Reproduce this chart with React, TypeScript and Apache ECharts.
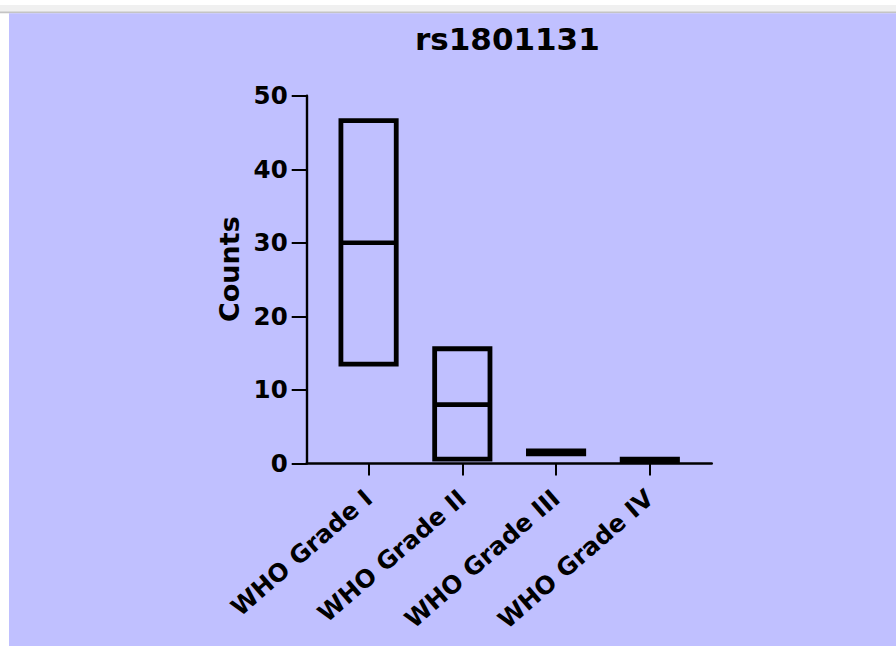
import React, { useEffect, useRef } from "react";
import * as echarts from "echarts";

const title = "rs1801131";
const yAxisName = "Counts";
const categories = ["WHO Grade I", "WHO Grade II", "WHO Grade III", "WHO Grade IV"];
const lowValues = [13.5, 0.6, 1.3, 0.4];
const highValues = [46.6, 15.6, 1.7, 0.6];
const medianValues = [30, 8, 1.5, 0.5];
const categoryPositions = [0, 1, 2, 3];

const FONT = "'DejaVu Sans', sans-serif";

export default function App() {
  const ref = useRef<HTMLDivElement>(null);
  useEffect(() => {
    if (!ref.current) return;
    const chart = echarts.init(ref.current, null, { renderer: "svg" });
    const data = categories.map((_, i) => [
      categoryPositions[i],
      lowValues[i],
      highValues[i],
      medianValues[i],
    ]);
    chart.setOption({
      animation: false,
      backgroundColor: "#ffffff",
      title: {
        text: title,
        left: 410,
        top: 18,
        textStyle: {
          fontFamily: FONT,
          fontWeight: "bold",
          fontSize: 31,
          color: "#000",
        },
      },
      graphic: [
        { type: "rect", z: -100, shape: { x: 0, y: 5, width: 896, height: 7 }, style: { fill: "#f0f0f0" } },
        { type: "rect", z: -100, shape: { x: 0, y: 11.5, width: 896, height: 1.8 }, style: { fill: "#c4c4c4" } },
        { type: "rect", z: -100, shape: { x: 9, y: 13.3, width: 887, height: 633 }, style: { fill: "#c0c0ff" } },
      ],
      grid: {
        left: 306.7,
        top: 95.7,
        width: 405,
        height: 367.8,
        containLabel: false,
      },
      xAxis: {
        type: "value",
        min: -0.66,
        max: 3.66,
        splitLine: { show: false },
        axisLine: { show: true, onZero: false, lineStyle: { color: "#000", width: 2.6 } },
        axisTick: {
          show: true,
          customValues: categoryPositions,
          length: 12,
          lineStyle: { color: "#000", width: 2 },
        },
        axisLabel: {
          customValues: categoryPositions,
          formatter: (v: number) => categories[Math.round(v)] ?? "",
          rotate: 41,
          margin: 31,
          fontFamily: FONT,
          fontWeight: "bold",
          fontSize: 24.5,
          color: "#000",
        },
      },
      yAxis: {
        type: "value",
        min: 0,
        max: 50,
        interval: 10,
        name: yAxisName,
        nameLocation: "middle",
        nameRotate: 90,
        nameGap: 64,
        nameTextStyle: {
          fontFamily: FONT,
          fontWeight: "bold",
          fontSize: 27,
          color: "#000",
          padding: [0, 0, 0, 21],
        },
        splitLine: { show: false },
        axisLine: { show: true, onZero: false, lineStyle: { color: "#000", width: 2.4 } },
        axisTick: { show: true, length: 15, lineStyle: { color: "#000", width: 2 } },
        axisLabel: {
          margin: 19,
          fontFamily: FONT,
          fontWeight: "bold",
          fontSize: 24.5,
          color: "#000",
        },
      },
      series: [
        {
          type: "custom",
          data,
          encode: { x: 0, y: [1, 2, 3] },
          renderItem: (params: any, api: any) => {
            const x = api.value(0);
            const lo = api.coord([x, api.value(1)]);
            const hi = api.coord([x, api.value(2)]);
            const med = api.coord([x, api.value(3)]);
            const w = api.size([0.59, 0])[0];
            const style = { fill: "none", stroke: "#000", lineWidth: 4.8 };
            return {
              type: "group",
              children: [
                {
                  type: "rect",
                  shape: { x: lo[0] - w / 2, y: hi[1], width: w, height: lo[1] - hi[1] },
                  style,
                },
                {
                  type: "line",
                  shape: { x1: med[0] - w / 2, y1: med[1], x2: med[0] + w / 2, y2: med[1] },
                  style: { stroke: "#000", lineWidth: 4.6 },
                },
              ],
            };
          },
        },
      ],
    });
    return () => chart.dispose();
  }, []);
  return (
    <div
      ref={ref}
      style={{ position: "fixed", left: 0, top: 0, width: 896, height: 646 }}
    />
  );
}
